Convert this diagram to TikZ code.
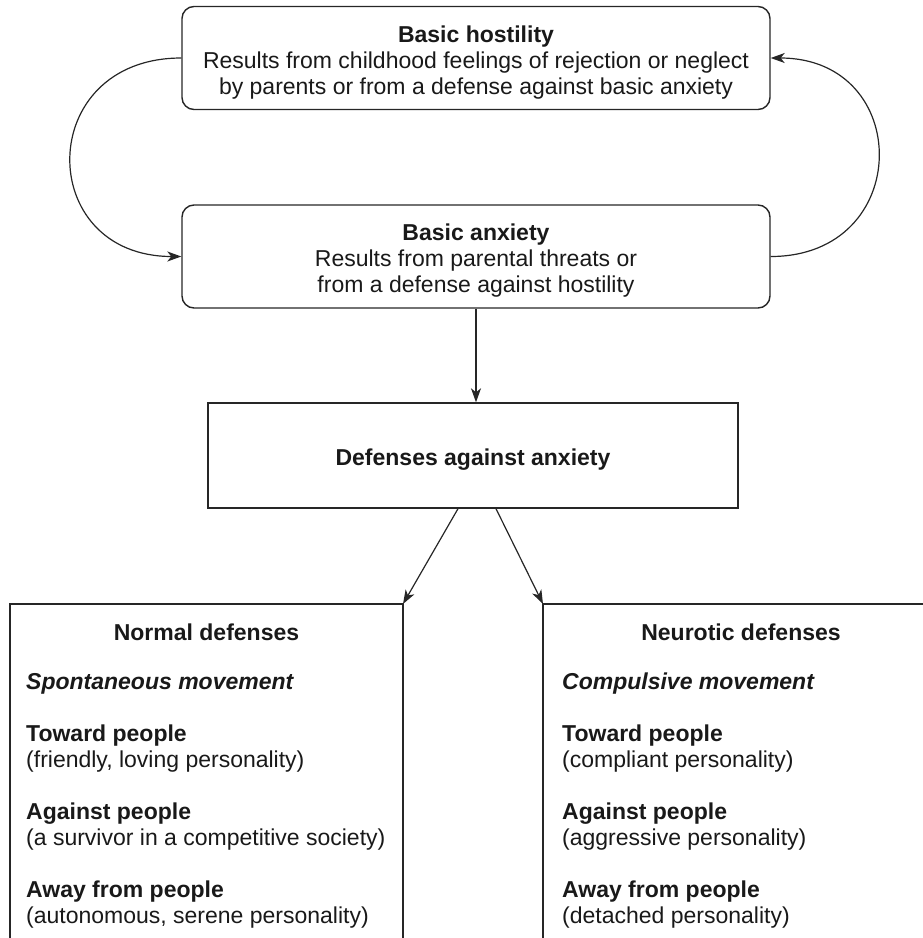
\documentclass[tikz,border=0pt]{standalone}
\usepackage{fontspec}
\setmainfont{Liberation Sans}
\usetikzlibrary{arrows.meta}

\begin{document}
\begin{tikzpicture}[x=1pt, y=-1pt,
  every node/.style={font=\fontsize{23}{26}\selectfont, text=black!90},
  box/.style={draw=black!85, line width=1.4pt, inner sep=0pt},
  rbox/.style={box, rounded corners=12pt, minimum width=588pt, minimum height=103pt, align=center, text height=77.5pt},
  item/.style={anchor=base west, inner sep=0pt},
  arr/.style={draw=black!85, line width=1.2pt, -{Stealth[length=14pt,width=10pt,inset=4pt]}}]
  \useasboundingbox (0,0) rectangle (922,938);
  \node[rbox] (host) at (476,58) {\textbf{Basic hostility}\\Results from childhood feelings of rejection or neglect\\by parents or from a defense against basic anxiety};
  \node[rbox] (anx) at (476,256.5) {\textbf{Basic anxiety}\\Results from parental threats or\\from a defense against hostility};
  \node[box, minimum width=530pt, minimum height=105pt, text height=24.5pt] (def) at (473,455.5) {\textbf{Defenses against anxiety}};
  \draw[arr] (host.west) to[out=180, in=180, looseness=1.9] (anx.west);
  \draw[arr] (anx.east) to[out=0, in=0, looseness=1.85] (host.east);
  \draw[arr] (anx.south) -- (anx.south |- def.north);
  % the two lower boxes run off the bottom of the page
  \coordinate (normal) at (403,604);
  \coordinate (neur) at (543,604);
  \draw[black!85, line width=1.4pt] (10,950) |- (normal) -- (403,950);
  \draw[black!85, line width=1.4pt] (543,950) -- (neur) -- (935,604);
  \draw[arr] ([xshift=-15pt]def.south) -- (normal);
  \draw[arr] ([xshift=23pt]def.south) -- (neur);
  \node[anchor=base] (nhead) at (206.5,640) {\textbf{Normal defenses}};
  \node[anchor=base] (khead) at (741,640) {\textbf{Neurotic defenses}};
  \foreach \i/\y/\l/\r in {
    1/689/{\textbf{\textit{Spontaneous movement}}}/{\textbf{\textit{Compulsive movement}}},
    2/741/{\textbf{Toward people}}/{\textbf{Toward people}},
    3/767/{(friendly, loving personality)}/{(compliant personality)},
    4/819/{\textbf{Against people}}/{\textbf{Against people}},
    5/845/{(a survivor in a competitive society)}/{(aggressive personality)},
    6/897/{\textbf{Away from people}}/{\textbf{Away from people}},
    7/923/{(autonomous, serene personality)}/{(detached personality)}}{
    \node[item] (nl\i) at (26,\y) {\l};
    \node[item] (kl\i) at (562,\y) {\r};
  }
\end{tikzpicture}
\end{document}
